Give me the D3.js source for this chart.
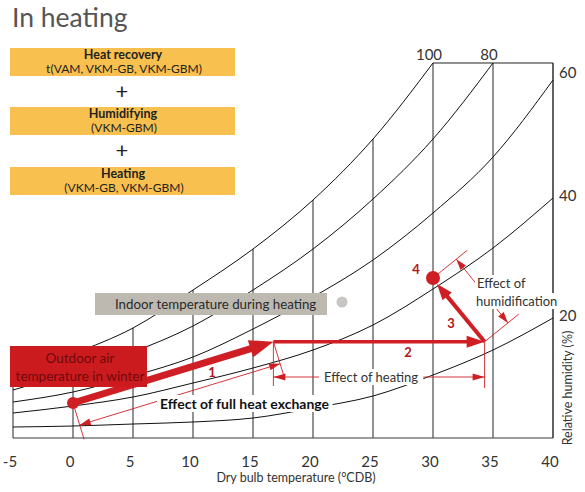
<!DOCTYPE html>
<html><head><meta charset="utf-8">
<script src="https://cdn.jsdelivr.net/npm/d3@7"></script>
<style>
body{margin:0;background:#fff}
svg{display:block}
text{font-family:"Lato","Open Sans",sans-serif}
</style>
</head><body>
<svg id="c" width="585" height="492"></svg>
<script>
// ---- data ----
const temps = [-5, 0, 5, 10, 15, 20, 25, 30, 35, 40];
const tickLabels = ["-5","0","5","10","15","20","25","30","35","40"];
// absolute humidity index (g/kg, schematic) of each RH curve at each temperature
const rh100 = [4.88, 6.72, 8.8, 11.84, 15.12, 19.04, 23.92, 30.0];            // -5..30
const rh80  = [3.84, 5.28, 6.88, 8.96, 11.84, 15.12, 19.12, 23.92, 30.0];     // -5..35
const rh60  = [2.88, 3.68, 4.96, 6.48, 8.72, 11.28, 14.24, 18.0, 22.48, 28.64];
const rh40  = [2.0, 2.56, 3.28, 4.4, 5.6, 7.04, 9.04, 11.92, 15.2, 19.2];
const rh20  = [0.88, 0.96, 1.12, 1.28, 1.6, 2.4, 3.36, 5.04, 7.04, 9.6];
const rhNames = ["100","80","60","40","20"];
// air states: 1 outdoor, 2 after heat exchange, 3 after heating, 4 after humidifying
const stateT = [0, 16.7, 34.3, 30];
const stateW = [2.8, 7.7, 7.7, 12.8];
const boxTitles = ["Heat recovery","Humidifying","Heating"];
const boxSubs = ["t(VAM, VKM-GB, VKM-GBM)","(VKM-GBM)","(VKM-GB, VKM-GBM)"];

// ---- setup ----
const svg = d3.select("#c");
const x = d3.scaleLinear().domain([-5, 40]).range([13, 553]);
const y = d3.scaleLinear().domain([0, 30]).range([438, 63]);
const RED = "#cf1f25", DRED = "#b3141b", INK = "#333";

const curves = [rh100, rh80, rh60, rh40, rh20].map(arr => arr.map((w, i) => [temps[i], w]));
const line = d3.line().x(d => x(d[0])).y(d => y(d[1])).curve(d3.curveMonotoneX);

const g = svg.append("g");
temps.forEach((t, i) => {
  const top = i < rh100.length ? rh100[i] : 30;
  g.append("line").attr("x1", x(t)).attr("x2", x(t)).attr("y1", y(0)).attr("y2", y(top))
    .attr("stroke", "#3a3a3a").attr("stroke-width", 1.1);
});
g.append("line").attr("x1", x(-5)).attr("x2", x(40)).attr("y1", y(0)).attr("y2", y(0)).attr("stroke", "#3a3a3a").attr("stroke-width", 1.2);
g.append("line").attr("x1", x(40)).attr("x2", x(40)).attr("y1", y(0)).attr("y2", y(30)).attr("stroke", "#3a3a3a").attr("stroke-width", 1.1);
g.append("line").attr("x1", x(30)).attr("x2", x(40)).attr("y1", y(30)).attr("y2", y(30)).attr("stroke", "#222").attr("stroke-width", 1.1);
curves.forEach(c => g.append("path").attr("d", line(c)).attr("fill", "none").attr("stroke", "#111").attr("stroke-width", 1));

// RH labels
const lab = svg.append("g").attr("font-size", 15).attr("fill", INK);
lab.append("text").attr("x", x(30) - 4).attr("y", 60).attr("text-anchor", "middle").text(rhNames[0]);
lab.append("text").attr("x", x(35) - 4).attr("y", 60).attr("text-anchor", "middle").text(rhNames[1]);
[2, 3, 4].forEach(k => {
  const c = curves[k]; const last = c[c.length - 1];
  lab.append("text").attr("x", x(40) + 6).attr("y", y(last[1]) + (k === 2 ? -2 : 3)).text(rhNames[k]);
});

// x tick labels
const ax = svg.append("g").attr("font-size", 15).attr("fill", INK).attr("text-anchor", "middle");
temps.forEach((t, i) => ax.append("text").attr("x", x(t) - 3).attr("y", 467).text(tickLabels[i]));
svg.append("text").attr("x", 296).attr("y", 482).attr("text-anchor", "middle").attr("font-size", 12.5).attr("fill", INK).text("Dry bulb temperature (°CDB)");
svg.append("text").attr("transform", "translate(572,388) rotate(-90)").attr("text-anchor", "middle").attr("font-size", 12.5).attr("fill", INK).text("Relative humidity (%)");

// title
svg.append("text").attr("x", 12).attr("y", 27).attr("font-size", 26.5).attr("fill", "#555").text("In heating");

// orange boxes
const boxY = [48, 107, 167];
boxY.forEach((by, i) => {
  svg.append("rect").attr("x", 10).attr("y", by).attr("width", 225).attr("height", 28).attr("fill", "#f8c04f");
  svg.append("text").attr("x", 123).attr("y", by + 10.5).attr("text-anchor", "middle").attr("font-size", 12.5).attr("font-weight", 700).attr("fill", "#222").text(boxTitles[i]);
  svg.append("text").attr("x", 124).attr("y", by + 25).attr("text-anchor", "middle").attr("font-size", 12).attr("fill", "#222").text(boxSubs[i]);
});
[92, 151].forEach(py => svg.append("text").attr("x", 122).attr("y", py + 7).attr("text-anchor", "middle").attr("font-size", 22).attr("fill", "#222").text("+"));

function knockText(parent, tx, ty, str, opts) {
  const t = parent.append("text").attr("x", tx).attr("y", ty).text(str)
    .attr("font-size", opts.size || 13.5).attr("fill", opts.fill || INK)
    .attr("font-weight", opts.weight || 400).attr("text-anchor", opts.anchor || "start");
  const b = t.node().getBBox();
  parent.insert("rect", () => t.node()).attr("x", b.x - (opts.padX || 3)).attr("y", b.y).attr("width", b.width + 2 * (opts.padX || 3)).attr("height", b.height + (opts.padB || 0)).attr("fill", "#fff");
  return t;
}

const P = stateT.map((t, i) => [x(t), y(stateW[i])]);
const ann = svg.append("g");

function arrowHead(parent, tip, dir, len, half, fill) {
  const [ux, uy] = dir; const nx = -uy, ny = ux;
  const bx = tip[0] - ux * len, by = tip[1] - uy * len;
  parent.append("path").attr("d", `M${tip[0]},${tip[1]}L${bx + nx * half},${by + ny * half}L${bx - nx * half},${by - ny * half}Z`).attr("fill", fill);
}
function unit(a, b) { const dx = b[0] - a[0], dy = b[1] - a[1], l = Math.hypot(dx, dy); return [dx / l, dy / l]; }
function thinLine(parent, a, b) { parent.append("line").attr("x1", a[0]).attr("y1", a[1]).attr("x2", b[0]).attr("y2", b[1]).attr("stroke", RED).attr("stroke-width", 0.9); }

// indoor box
svg.append("rect").attr("x", 95).attr("y", 293).attr("width", 232).attr("height", 22).attr("fill", "#bdb9b0");
svg.append("text").attr("x", 115).attr("y", 309).attr("font-size", 13.3).attr("fill", "#2a2a2a").text("Indoor temperature during heating");
svg.append("circle").attr("cx", 342).attr("cy", 302).attr("r", 5.5).attr("fill", "#c8c6c2");

// --- dimension: full heat exchange ---
{
  const u = unit(P[0], P[1]); const n = [-u[1], u[0]];
  const off = 23;
  thinLine(ann, P[0], [P[0][0] + n[0] * 38, P[0][1] + n[1] * 38]);
  thinLine(ann, P[1], [P[1][0] + n[0] * 34, P[1][1] + n[1] * 34]);
  const a = [P[0][0] + n[0] * off, P[0][1] + n[1] * off], b = [P[1][0] + n[0] * off, P[1][1] + n[1] * off];
  thinLine(ann, a, b);
  arrowHead(ann, a, [-u[0], -u[1]], 11, 3.5, RED);
  arrowHead(ann, b, u, 11, 3.5, RED);
}
knockText(ann, 160, 409, "Effect of full heat exchange", {size: 14, weight: 700, fill: "#111"});

// --- dimension: heating ---
{
  const yd = 377;
  thinLine(ann, P[1], [P[1][0], 386]);
  thinLine(ann, P[2], [P[2][0], 388]);
  thinLine(ann, [P[1][0], yd], [P[2][0], yd]);
  arrowHead(ann, [P[1][0], yd], [-1, 0], 12, 3.5, RED);
  arrowHead(ann, [P[2][0], yd], [1, 0], 12, 3.5, RED);
}
knockText(ann, 371, 382, "Effect of heating", {size: 13, anchor: "middle", padX: 5});

// --- dimension: humidification ---
{
  const u = unit(P[2], P[3]); const n = [-u[1], u[0]];
  const nn = n[0] > 0 ? n : [-n[0], -n[1]];
  thinLine(ann, P[3], [P[3][0] + nn[0] * 44, P[3][1] + nn[1] * 44]);
  thinLine(ann, P[2], [P[2][0] + nn[0] * 44, P[2][1] + nn[1] * 44]);
  const off = 30;
  const a = [P[3][0] + nn[0] * off, P[3][1] + nn[1] * off], b = [P[2][0] + nn[0] * off, P[2][1] + nn[1] * off];
  thinLine(ann, a, b);
  arrowHead(ann, a, u, 11, 3.5, RED);
  arrowHead(ann, b, [-u[0], -u[1]], 11, 3.5, RED);
}
const hg = ann.append("g");
knockText(hg, 477, 288, "Effect of", {size: 13, padX: 2, padB: 4});
knockText(hg, 476, 306, "humidification", {size: 13, padX: 2});

// --- process arrows ---
function thickArrow(a, b, w, len, half) {
  const u = unit(a, b);
  const e = [b[0] - u[0] * len * 0.8, b[1] - u[1] * len * 0.8];
  ann.append("line").attr("x1", a[0]).attr("y1", a[1]).attr("x2", e[0]).attr("y2", e[1]).attr("stroke", RED).attr("stroke-width", w);
  arrowHead(ann, b, u, len, half, RED);
}
thickArrow(P[0], P[1], 7, 24, 9);
thickArrow(P[1], P[2], 3.5, 18, 6);
thickArrow(P[2], [P[3][0] + 4, P[3][1] + 6], 4, 16, 6);
ann.append("circle").attr("cx", P[0][0]).attr("cy", P[0][1]).attr("r", 6).attr("fill", RED);
ann.append("circle").attr("cx", P[3][0]).attr("cy", P[3][1]).attr("r", 7).attr("fill", RED);

const nums = ann.append("g").attr("font-size", 13).attr("font-weight", 700).attr("fill", DRED).attr("text-anchor", "middle");
nums.append("text").attr("x", 212).attr("y", 377).text("1");
nums.append("text").attr("x", 408).attr("y", 357).text("2");
nums.append("text").attr("x", 451).attr("y", 328).text("3");
nums.append("text").attr("x", 416).attr("y", 274).text("4");

// outdoor box
svg.append("rect").attr("x", 10).attr("y", 346).attr("width", 137).attr("height", 41).attr("fill", "#cc1b1f");
svg.append("text").attr("x", 80).attr("y", 363).attr("text-anchor", "middle").attr("font-size", 13.5).attr("fill", "#6e0a0c").text("Outdoor air");
svg.append("text").attr("x", 80).attr("y", 381).attr("text-anchor", "middle").attr("font-size", 13.5).attr("fill", "#6e0a0c").text("temperature in winter");
</script>
</body></html>
